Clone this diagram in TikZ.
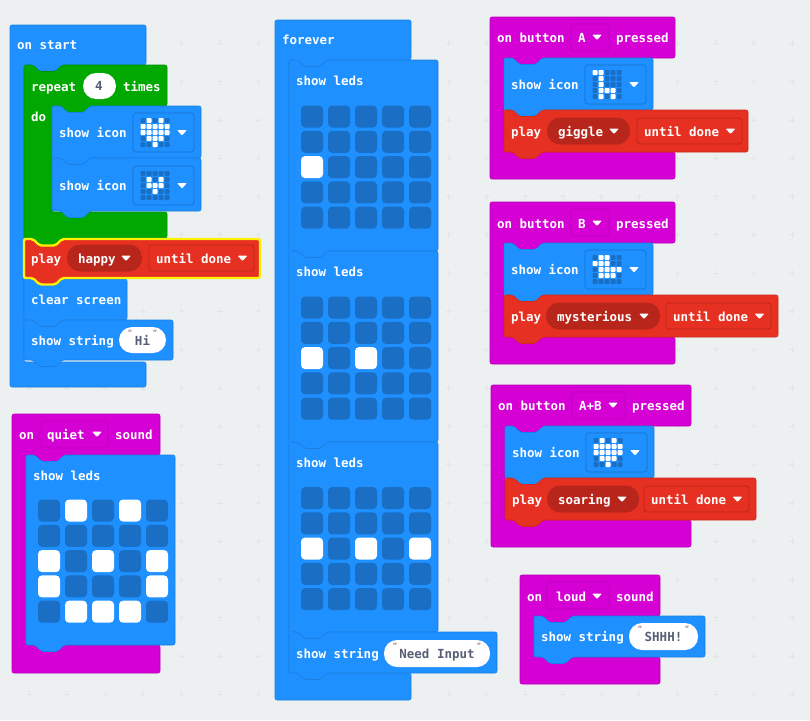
\documentclass[tikz,border=0pt]{standalone}
\usepackage{fontspec}
\setmainfont{DejaVu Sans Mono}
\definecolor{bgc}{HTML}{ECF0F1}
\definecolor{gridc}{HTML}{E0E5E7}
\definecolor{bluef}{HTML}{1E90FF}
\definecolor{blues}{HTML}{1C7FE0}
\definecolor{greenf}{HTML}{00A800}
\definecolor{greens}{HTML}{009200}
\definecolor{purpf}{HTML}{D400D4}
\definecolor{purps}{HTML}{BA00BA}
\definecolor{redf}{HTML}{E63022}
\definecolor{reds}{HTML}{B8261B}
\definecolor{redline}{HTML}{CF2A1E}
\definecolor{hilite}{HTML}{FFF200}
\definecolor{leddark}{HTML}{1A6FC4}
\definecolor{fieldblue}{HTML}{1873CC}
\definecolor{pilltext}{HTML}{575E75}
\definecolor{quotec}{HTML}{A8707A}
\tikzset{
  x=1pt,y=-1pt,
  blockshape/.style={rounded corners=2pt,line width=0.6pt,line join=round},
  blueblock/.style={blockshape,fill=bluef,draw=blues},
  greenblock/.style={blockshape,fill=greenf,draw=greens},
  purpblock/.style={blockshape,fill=purpf,draw=purps},
  redblock/.style={blockshape,fill=redf,draw=redline},
  hiblock/.style={blockshape,fill=redf,draw=hilite,line width=2.4pt},
  lbltext/.style={anchor=mid west,inner sep=0pt,outer sep=0pt,text=white,font=\fontsize{12.5}{15}\selectfont\bfseries},
  pilllbl/.style={anchor=mid,inner sep=0pt,outer sep=0pt,text=pilltext,font=\fontsize{12.5}{15}\selectfont\bfseries},
  quotelbl/.style={anchor=mid,inner sep=0pt,outer sep=0pt,text=quotec,font=\fontsize{7}{8}\selectfont\bfseries}
}
\newcount\lblnum
\newcommand\lbl[3]{\global\advance\lblnum by 1 \node[lbltext] (t\the\lblnum) at (#1,#2+2.5) {#3};}
\newcommand\stmt[5]{% x1 y1 x2 y2 style
  \draw[#5] (#1,#2) -- (#1+9,#2) -- (#1+15.5,#2+6.5) -- (#1+31.5,#2+6.5) -- (#1+38,#2) -- (#3,#2)
    -- (#3,#4) -- (#1+38,#4) -- (#1+31.5,#4+6.5) -- (#1+15.5,#4+6.5) -- (#1+9,#4) -- (#1,#4) -- cycle;}
\newcommand\hatC[8]{% x1 y1 x2 yh xi yf y2 style
  \draw[#8] (#1,#2) -- (#3,#2) -- (#3,#4) -- (#5+38,#4) -- (#5+31.5,#4+6.5) -- (#5+15.5,#4+6.5) -- (#5+9,#4)
    -- (#5,#4) -- (#5,#6) -- (#3,#6) -- (#3,#7) -- (#1,#7) -- cycle;}
\newcommand\stmtC[8]{% x1 y1 x2 yh xi yf y2 style
  \draw[#8] (#1,#2) -- (#1+9,#2) -- (#1+15.5,#2+6.5) -- (#1+31.5,#2+6.5) -- (#1+38,#2) -- (#3,#2) -- (#3,#4)
    -- (#5+38,#4) -- (#5+31.5,#4+6.5) -- (#5+15.5,#4+6.5) -- (#5+9,#4) -- (#5,#4) -- (#5,#6) -- (#3,#6) -- (#3,#7)
    -- (#1+38,#7) -- (#1+31.5,#7+6.5) -- (#1+15.5,#7+6.5) -- (#1+9,#7) -- (#1,#7) -- cycle;}
\newcommand\arrowdown[2]{\fill[white,rounded corners=1pt] (#1-5,#2-2.5) -- (#1+5,#2-2.5) -- (#1,#2+3) -- cycle;}
\newcommand\field[5]{% x1 y1 x2 y2 stroke
  \draw[#5,line width=0.7pt,rounded corners=3pt] (#1,#2) rectangle (#3,#4);}
\newcommand\darkpill[4]{\fill[reds,rounded corners=13pt] (#1,#2) rectangle (#3,#4);}
\newcommand\whitepill[4]{\fill[white,rounded corners=13pt] (#1,#2) rectangle (#3,#4);}
\newcommand\pilltxt[3]{\global\advance\lblnum by 1 \node[pilllbl] (t\the\lblnum) at (#1,#2+2.5) {#3};}
\newcommand\quotes[3]{% xleft xright y
  \global\advance\lblnum by 1 \node[quotelbl] (t\the\lblnum) at (#1,#3) {"};
  \global\advance\lblnum by 1 \node[quotelbl] (t\the\lblnum) at (#2,#3) {"};}
\newcommand\ledcell[2]{\ifnum#2=1 \def\cc{white}\else\def\cc{leddark}\fi
  \fill[\cc,rounded corners=\gr] (\gx+#1*\gdx,\gy+\ri*\gdy) rectangle ++(\gs,\gs);}
\newcommand\ledrow[5]{\ledcell{0}{#1}\ledcell{1}{#2}\ledcell{2}{#3}\ledcell{3}{#4}\ledcell{4}{#5}}
\newcommand\ledgrid[7]{% x y dx dy size radius rows
  \def\gx{#1}\def\gy{#2}\def\gdx{#3}\def\gdy{#4}\def\gs{#5}\def\gr{#6}
  \foreach \r [count=\ri from 0] in {#7} {\expandafter\ledrow\r}}
\newcommand\icon[3]{% x y of block-field left/top, rows
  \field{#1}{#2}{#1+61}{#2+39}{fieldblue}
  \ledgrid{#1+7.5}{#2+5}{6}{6}{5}{0.8pt}{#3}
  \arrowdown{#1+49}{#2+19.5}}
\newcommand\bigleds[3]{\ledgrid{#1}{#2}{27}{25.3}{22}{4pt}{#3}}
\newcommand\playrow[9]{% xleft y  name pillL pillR textX arrowX fieldL unused
  \lbl{#1+7}{#2}{play}
  \darkpill{#4}{#2-13.5}{#5}{#2+13.5}
  \lbl{#6}{#2}{#3}
  \arrowdown{#7}{#2}
  \field{#8}{#2-13}{#8+105}{#2+13}{reds}
  \lbl{#8+7}{#2}{until done}
  \arrowdown{#8+93.5}{#2}}
\begin{document}
\begin{tikzpicture}
\useasboundingbox (0,0) rectangle (810,720);
\fill[bgc] (0,0) rectangle (810,720);
% background grid of small crosses
\foreach \i in {0,...,20} \foreach \j in {0,...,18} {
  \draw[gridc,line width=0.8pt] (29+\i*38.15-3,43.3+\j*38.3) -- ++(6,0);
  \draw[gridc,line width=0.8pt] (29+\i*38.15,43.3+\j*38.3-3) -- ++(0,6);
}

% ===== on start =====
\hatC{10}{25}{146}{65}{24}{362}{387}{blueblock}
\lbl{17}{44}{on start}
\stmtC{24}{65}{167}{106}{52}{212}{238}{greenblock}
\lbl{31}{86}{repeat}
\whitepill{83}{73}{116}{99}
\pilltxt{99}{85}{4}
\lbl{123}{86}{times}
\lbl{31}{116}{do}
\stmt{52}{106}{201}{158}{blueblock}
\lbl{59}{132}{show icon}
\icon{133}{113}{01010,11111,11111,01110,00100}
\stmt{52}{158}{201}{211}{blueblock}
\lbl{59}{185}{show icon}
\icon{133}{166}{00000,01010,01110,00100,00000}
\stmt{24}{279}{127}{320}{blueblock}
\lbl{31}{299}{clear screen}
\stmt{24}{320}{173}{360}{blueblock}
\lbl{31}{340}{show string}
\whitepill{119}{327}{166}{353}
\pilltxt{142.5}{340}{Hi}
\quotes{130}{155}{333}
\stmt{24}{239}{260}{278}{hiblock}
\playrow{24}{258}{happy}{67}{142}{78}{126}{149}{}

% ===== on quiet sound =====
\hatC{12}{414}{160}{455}{26}{645}{673}{purpblock}
\lbl{19}{434}{on}
\field{41}{421}{108}{448}{purps}
\lbl{47}{434}{quiet}
\arrowdown{97}{434}
\lbl{115}{434}{sound}
\stmt{26}{455}{175}{645}{blueblock}
\lbl{33}{475}{show leds}
\bigleds{38}{499.5}{01010,00000,10101,10001,01110}

% ===== forever =====
\hatC{275}{20}{411}{60}{289}{673}{700}{blueblock}
\lbl{282}{39.5}{forever}
\stmt{289}{60}{438}{251}{blueblock}
\lbl{296}{80}{show leds}
\bigleds{301}{105.5}{00000,00000,10000,00000,00000}
\stmt{289}{251}{438}{442}{blueblock}
\lbl{296}{271}{show leds}
\bigleds{301}{296.5}{00000,00000,10100,00000,00000}
\stmt{289}{442}{438}{632}{blueblock}
\lbl{296}{462}{show leds}
\bigleds{301}{487}{00000,00000,10101,00000,00000}
\stmt{289}{632}{497}{673}{blueblock}
\lbl{296}{653}{show string}
\whitepill{384}{640}{490}{667}
\pilltxt{437}{653}{Need Input}
\quotes{395}{479}{646}

% ===== on button A =====
\hatC{490}{17}{675}{58}{504}{152}{179}{purpblock}
\lbl{497}{37}{on button}
\field{571}{24}{609}{51}{purps}
\lbl{578}{37}{A}
\arrowdown{597}{37}
\lbl{616}{37}{pressed}
\stmt{504}{58}{653}{110}{blueblock}
\lbl{511}{84}{show icon}
\icon{585}{65}{11000,01000,01000,01110,01010}
\stmt{504}{110}{748}{152}{redblock}
\playrow{504}{131}{giggle}{547}{630}{558}{614}{637}{}

% ===== on button B =====
\hatC{490}{202}{675}{243}{504}{337}{364}{purpblock}
\lbl{497}{223}{on button}
\field{571}{209}{609}{236}{purps}
\lbl{578}{223}{B}
\arrowdown{597}{223}
\lbl{616}{223}{pressed}
\stmt{504}{243}{653}{295}{blueblock}
\lbl{511}{269}{show icon}
\icon{585}{250}{01100,11100,01111,01110,00000}
\stmt{504}{295}{778}{337}{redblock}
\playrow{504}{316}{mysterious}{546}{660}{557}{644}{666}{}

% ===== on button A+B =====
\hatC{491}{385}{691}{426}{505}{520}{547}{purpblock}
\lbl{498}{405}{on button}
\field{572}{392}{625}{419}{purps}
\lbl{579}{405}{A+B}
\arrowdown{613}{405}
\lbl{632}{405}{pressed}
\stmt{505}{426}{654}{478}{blueblock}
\lbl{512}{452}{show icon}
\icon{586}{433}{01010,11111,11111,01110,00100}
\stmt{505}{478}{756}{520}{redblock}
\playrow{505}{499}{soaring}{547}{639}{558}{622}{644}{}

% ===== on loud sound =====
\hatC{520}{575}{660}{616}{534}{657}{684}{purpblock}
\lbl{527}{596}{on}
\field{547}{582}{609}{609}{purps}
\lbl{556}{596}{loud}
\arrowdown{597}{596}
\lbl{616}{596}{sound}
\stmt{534}{616}{705}{657}{blueblock}
\lbl{541}{636}{show string}
\whitepill{629}{623}{698}{650}
\pilltxt{663.5}{636}{SHHH!}
\quotes{640}{687}{629}
\end{tikzpicture}
\end{document}
